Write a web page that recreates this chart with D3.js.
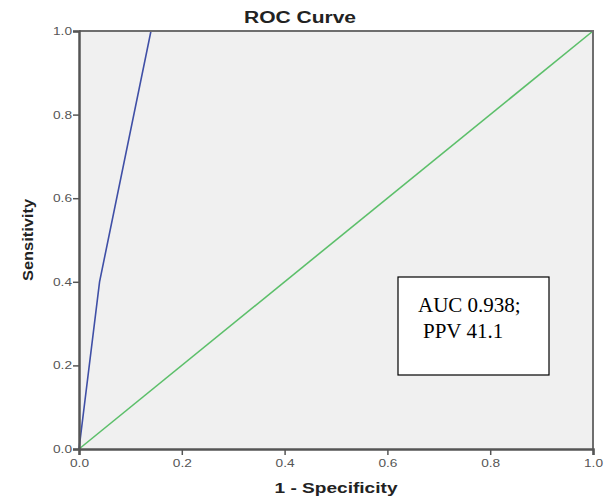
<!DOCTYPE html>
<html lang="en">
<head>
  <meta charset="UTF-8">
  <title>ROC Curve</title>
  <script src="https://d3js.org/d3.v7.min.js"></script>
  <style>
    body { margin: 0; background: #fff; }
    .tick text { font-family: Arial, "Liberation Sans", sans-serif; fill: #555; }
  </style>
</head>
<body>
  <div id="chart"></div>
  <script>
    // ROC curve points (1 - specificity, sensitivity)
    const rocFpr = [0, 0.04, 0.14, 1.0];
    const rocTpr = [0, 0.40, 1.0, 1.0];
    // reference diagonal
    const refFpr = [0, 1];
    const refTpr = [0, 1];
    const tickValues = [0, 0.2, 0.4, 0.6, 0.8, 1.0];
    const noteLines = ["AUC 0.938;", "PPV 41.1"];

    const W = 609, H = 503;
    const margin = { top: 31, right: 16, bottom: 54, left: 79 };
    const width = W - margin.left - margin.right;
    const height = H - margin.top - margin.bottom;

    const svg = d3.select("#chart").append("svg")
      .attr("width", W)
      .attr("height", H);

    const g = svg.append("g")
      .attr("transform", `translate(${margin.left},${margin.top})`);

    const x = d3.scaleLinear().domain([0, 1]).range([0, width]);
    const y = d3.scaleLinear().domain([0, 1]).range([height, 0]);

    // plot background
    g.append("rect")
      .attr("width", width)
      .attr("height", height)
      .attr("fill", "#f0f0f0");

    // lines
    const line = d3.line().x(d => x(d[0])).y(d => y(d[1]));
    g.append("path")
      .datum(d3.zip(refFpr, refTpr))
      .attr("d", line)
      .attr("fill", "none")
      .attr("stroke", "#5cbf6a")
      .attr("stroke-width", 1.6);
    g.append("path")
      .datum(d3.zip(rocFpr, rocTpr))
      .attr("d", line)
      .attr("fill", "none")
      .attr("stroke", "#3f4fa6")
      .attr("stroke-width", 1.6);

    // frame top/right
    g.append("path")
      .attr("d", `M0,0H${width}V${height}`)
      .attr("fill", "none")
      .attr("stroke", "#6e6e6e")
      .attr("stroke-width", 2);

    // axes
    const xAxis = g.append("g")
      .attr("transform", `translate(0,${height})`)
      .call(d3.axisBottom(x).tickValues(tickValues).tickFormat(d3.format(".1f")).tickSize(6).tickPadding(4));
    const yAxis = g.append("g")
      .call(d3.axisLeft(y).tickValues(tickValues).tickFormat(d3.format(".1f")).tickSize(6).tickPadding(1));

    [xAxis, yAxis].forEach(a => {
      a.select(".domain").attr("stroke", "#555").attr("stroke-width", 2.5);
      a.selectAll(".tick line").attr("stroke", "#555").attr("stroke-width", 1.5);
      a.selectAll(".tick text")
        .attr("font-size", 11)
        .attr("textLength", 19)
        .attr("lengthAdjust", "spacingAndGlyphs");
    });

    // title
    svg.append("text")
      .attr("x", 300)
      .attr("y", 23)
      .attr("text-anchor", "middle")
      .attr("font-family", "Arial, 'Liberation Sans', sans-serif")
      .attr("font-weight", "bold")
      .attr("font-size", 16)
      .attr("fill", "#222")
      .attr("textLength", 112)
      .attr("lengthAdjust", "spacingAndGlyphs")
      .text("ROC Curve");

    // x label
    svg.append("text")
      .attr("x", 336)
      .attr("y", 493)
      .attr("text-anchor", "middle")
      .attr("font-family", "Arial, 'Liberation Sans', sans-serif")
      .attr("font-weight", "bold")
      .attr("font-size", 15)
      .attr("fill", "#222")
      .attr("textLength", 123)
      .attr("lengthAdjust", "spacingAndGlyphs")
      .text("1 - Specificity");

    // y label
    svg.append("text")
      .attr("transform", "translate(33,240) rotate(-90)")
      .attr("text-anchor", "middle")
      .attr("font-family", "Arial, 'Liberation Sans', sans-serif")
      .attr("font-weight", "bold")
      .attr("font-size", 15)
      .attr("fill", "#222")
      .attr("textLength", 82)
      .attr("lengthAdjust", "spacingAndGlyphs")
      .text("Sensitivity");

    // annotation box
    const note = svg.append("g").attr("transform", "translate(398,277)");
    note.append("rect")
      .attr("width", 151)
      .attr("height", 98)
      .attr("fill", "#fff")
      .attr("stroke", "#000")
      .attr("stroke-width", 1.2);
    note.selectAll("text")
      .data(noteLines)
      .join("text")
      .attr("x", (d, i) => i === 0 ? 20 : 25)
      .attr("y", (d, i) => 35 + i * 26)
      .attr("font-family", "'Times New Roman', 'Liberation Serif', serif")
      .attr("font-size", 21)
      .attr("fill", "#000")
      .text(d => d);
  </script>
</body>
</html>
